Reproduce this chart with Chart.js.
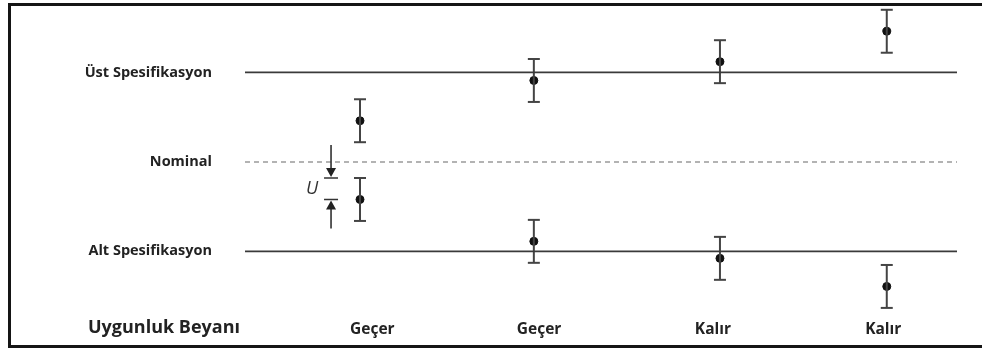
<!DOCTYPE html>
<html>
<head>
<meta charset="utf-8">
<script src="https://cdn.jsdelivr.net/npm/chart.js@4"></script>
<style>
  html, body { margin: 0; padding: 0; background: #fff; }
  #wrap { position: relative; width: 982px; height: 349px; overflow: hidden; }
  #frame { position: absolute; left: 8px; top: 3px; width: 1000px; height: 339px; border: 3px solid #151515; }
  #chart { position: absolute; left: 0; top: 0; }
</style>
</head>
<body>
<div id="wrap">
  <div id="frame"></div>
  <canvas id="chart" width="982" height="349"></canvas>
</div>
<script>
const categories = ['Geçer', 'Geçer', 'Kalır', 'Kalır'];
const pointX = [1, 1.99, 3.05, 4.0];
const labelX = [1.07, 2.02, 3.01, 3.98];
const upperValues = [7.3, 9.55, 10.6, 12.3];
const lowerValues = [2.9, 0.56, -0.39, -1.96];
const uncertainty = 1.2;
const specNames = ['Alt Spesifikasyon', 'Nominal', 'Üst Spesifikasyon'];
const specValues = [0, 5, 10];
const rowTitle = 'Uygunluk Beyanı';
const xMin = 0.345, xMax = 4.4;
const yMin = -3.5, yMax = 13.6;

const FONT = "'Open Sans', sans-serif";
const ink = '#222';

// spec lines
const specDatasets = specValues.map((v, i) => ({
    type: 'line',
    data: [{ x: xMin, y: v }, { x: xMax, y: v }],
    borderColor: i === 1 ? '#9a9a9a' : '#3a3a3a',
    borderWidth: i === 1 ? 1.5 : 1.8,
    borderDash: i === 1 ? [5, 4] : [],
    pointRadius: 0
}));

// error bars, one small line per measurement
const errorDatasets = [];
[upperValues, lowerValues].forEach(series => {
    series.forEach((v, i) => {
        errorDatasets.push({
            type: 'line',
            data: [{ x: pointX[i], y: v - uncertainty }, { x: pointX[i], y: v + uncertainty }],
            borderColor: '#444',
            borderWidth: 2,
            pointStyle: 'line',
            pointRadius: 6,
            pointBorderWidth: 2,
            pointBorderColor: '#444'
        });
    });
});

const centerPoints = {
    type: 'scatter',
    data: upperValues.map((v, i) => ({ x: pointX[i], y: v }))
        .concat(lowerValues.map((v, i) => ({ x: pointX[i], y: v }))),
    backgroundColor: '#111',
    borderColor: '#111',
    pointRadius: 4
};

const annotations = {
    id: 'annotations',
    afterDraw(chart) {
        const { ctx, scales: { x, y } } = chart;
        ctx.save();
        // row title on the x tick line
        ctx.fillStyle = ink;
        ctx.font = 'bold 18px ' + FONT;
        ctx.textBaseline = 'middle';
        ctx.textAlign = 'left';
        ctx.fillText(rowTitle, 88, x.top + 14);

        // U marker
        const ax = x.getPixelForValue(pointX[0] - 0.165);
        const tTop = y.getPixelForValue(lowerValues[0] + uncertainty);
        const tBot = y.getPixelForValue(lowerValues[0]);
        ctx.strokeStyle = '#333';
        ctx.fillStyle = '#222';
        ctx.lineWidth = 1.6;
        ctx.beginPath();
        ctx.moveTo(ax, tTop - 33); ctx.lineTo(ax, tTop - 9);
        ctx.moveTo(ax - 7, tTop); ctx.lineTo(ax + 7, tTop);
        ctx.moveTo(ax, tBot + 29); ctx.lineTo(ax, tBot + 9);
        ctx.moveTo(ax - 7, tBot); ctx.lineTo(ax + 7, tBot);
        ctx.stroke();
        ctx.beginPath();
        ctx.moveTo(ax - 5, tTop - 10); ctx.lineTo(ax + 5, tTop - 10); ctx.lineTo(ax, tTop - 1);
        ctx.closePath();
        ctx.moveTo(ax - 5, tBot + 10); ctx.lineTo(ax + 5, tBot + 10); ctx.lineTo(ax, tBot + 1);
        ctx.closePath();
        ctx.fill();
        ctx.font = 'italic 18px ' + FONT;
        ctx.textAlign = 'center';
        ctx.fillStyle = '#333';
        ctx.fillText('U', ax - 19, (tTop + tBot) / 2);
        ctx.restore();
    }
};

new Chart(document.getElementById('chart'), {
    data: { datasets: specDatasets.concat(errorDatasets, [centerPoints]) },
    options: {
        responsive: false,
        animation: false,
        layout: { padding: { top: 8, right: 25, left: 0, bottom: 0 } },
        plugins: { legend: { display: false }, tooltip: { enabled: false } },
        scales: {
            x: {
                type: 'linear',
                min: xMin,
                max: xMax,
                grid: { display: false, drawTicks: false },
                border: { display: false },
                afterBuildTicks: s => { s.ticks = labelX.map(v => ({ value: v })); },
                afterFit: s => { s.height = 35; s.paddingLeft = 0; s.paddingRight = 0; },
                ticks: {
                    autoSkip: false,
                    maxRotation: 0,
                    padding: 6,
                    color: ink,
                    font: { family: FONT, size: 15.5, weight: 'bold' },
                    callback: (v, i) => categories[i]
                }
            },
            y: {
                type: 'linear',
                min: yMin,
                max: yMax,
                grid: { display: false, drawTicks: false },
                border: { display: false },
                afterBuildTicks: s => { s.ticks = specValues.map(v => ({ value: v })); },
                afterFit: s => { s.width = 245; s.paddingTop = 0; s.paddingBottom = 0; },
                ticks: {
                    padding: 33,
                    color: ink,
                    font: { family: FONT, size: 14.5, weight: 'bold' },
                    callback: (v, i) => specNames[i]
                }
            }
        }
    },
    plugins: [annotations]
});
</script>
</body>
</html>
